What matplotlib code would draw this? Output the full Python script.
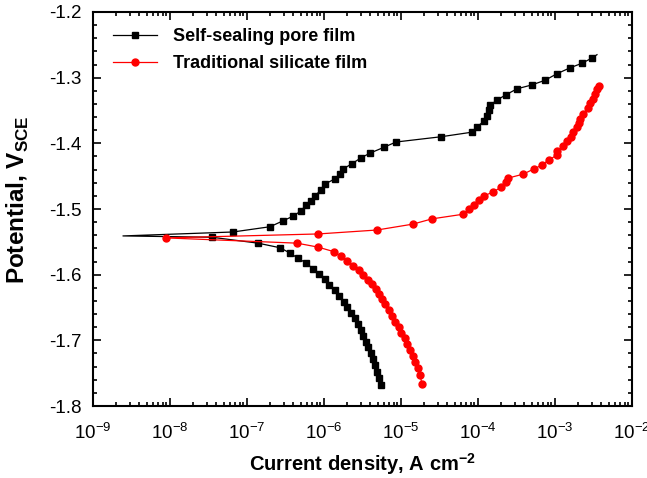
import matplotlib
matplotlib.use('Agg')
import matplotlib.pyplot as plt
from matplotlib.ticker import LogLocator, MultipleLocator, NullFormatter

plt.rcParams['font.family'] = ['Liberation Sans', 'DejaVu Sans']
plt.rcParams['mathtext.fontset'] = 'custom'
plt.rcParams['mathtext.rm'] = 'Liberation Sans'
plt.rcParams['mathtext.bf'] = 'Liberation Sans:bold'
plt.rcParams['axes.unicode_minus'] = False

# Self-sealing pore film: cathodic branch (bottom -> Ecorr) then anodic branch
self_i = [5.50e-6, 5.18e-6, 4.87e-6, 4.59e-6, 4.32e-6, 4.07e-6, 3.72e-6, 3.51e-6, 3.21e-6, 3.03e-6,
          2.77e-6, 2.53e-6, 2.25e-6, 1.99e-6, 1.82e-6, 1.57e-6, 1.39e-6, 1.16e-6, 1.03e-6, 8.61e-7,
          7.19e-7, 5.83e-7, 4.59e-7, 3.61e-7, 2.69e-7, 1.39e-7, 3.51e-8, 2.45e-9,
          6.58e-8, 1.99e-7, 2.94e-7, 3.95e-7, 5.02e-7, 5.83e-7, 6.78e-7, 7.64e-7, 9.14e-7, 1.03e-6,
          1.39e-6, 1.62e-6, 1.77e-6, 2.31e-6, 3.03e-6, 3.95e-6, 6.01e-6, 8.61e-6, 3.30e-5, 8.36e-5,
          9.70e-5, 1.20e-4, 1.31e-4, 1.39e-4, 1.43e-4, 1.77e-4, 2.31e-4, 3.21e-4, 5.02e-4, 7.41e-4,
          1.06e-3, 1.57e-3, 2.25e-3, 3.03e-3, 3.51e-3]
self_e = [-1.768, -1.757, -1.748, -1.738, -1.728, -1.719, -1.710, -1.703, -1.693, -1.684,
          -1.675, -1.666, -1.658, -1.649, -1.642, -1.632, -1.623, -1.616, -1.607, -1.599,
          -1.591, -1.582, -1.575, -1.567, -1.559, -1.552, -1.543, -1.541,
          -1.535, -1.527, -1.518, -1.511, -1.503, -1.494, -1.488, -1.480, -1.471, -1.462,
          -1.454, -1.447, -1.439, -1.431, -1.422, -1.415, -1.406, -1.398, -1.390, -1.383,
          -1.375, -1.366, -1.358, -1.349, -1.342, -1.334, -1.326, -1.317, -1.311, -1.304,
          -1.294, -1.285, -1.278, -1.270, -1.265]

# Traditional silicate film
trad_i = [1.87e-5, 1.77e-5, 1.66e-5, 1.52e-5, 1.43e-5, 1.31e-5, 1.20e-5, 1.13e-5, 1.00e-5, 9.42e-6,
          8.36e-6, 7.64e-6, 6.98e-6, 6.19e-6, 5.66e-6, 5.18e-6, 4.73e-6, 4.20e-6, 3.72e-6, 3.21e-6,
          2.85e-6, 2.38e-6, 1.99e-6, 1.66e-6, 1.35e-6, 8.36e-7, 4.46e-7, 8.87e-9,
          8.36e-7, 4.87e-6, 1.43e-5, 2.53e-5, 6.38e-5, 7.64e-5, 8.87e-5, 1.03e-4, 1.20e-4, 1.57e-4,
          1.99e-4, 2.31e-4, 2.45e-4, 3.84e-4, 5.33e-4, 6.78e-4, 8.36e-4, 1.06e-3, 1.06e-3, 1.27e-3,
          1.43e-3, 1.61e-3, 1.71e-3, 1.93e-3, 2.05e-3, 2.11e-3, 2.31e-3, 2.69e-3, 2.85e-3, 3.12e-3,
          3.30e-3, 3.51e-3, 3.72e-3]
trad_e = [-1.766, -1.753, -1.742, -1.733, -1.724, -1.715, -1.706, -1.696, -1.689, -1.680,
          -1.672, -1.663, -1.654, -1.645, -1.637, -1.629, -1.622, -1.614, -1.608, -1.600,
          -1.593, -1.587, -1.579, -1.572, -1.565, -1.558, -1.552, -1.544,
          -1.538, -1.532, -1.523, -1.515, -1.508, -1.500, -1.494, -1.486, -1.480, -1.474,
          -1.467, -1.459, -1.453, -1.447, -1.439, -1.433, -1.425, -1.418, -1.412, -1.404,
          -1.396, -1.390, -1.383, -1.375, -1.369, -1.363, -1.355, -1.346, -1.339, -1.332,
          -1.325, -1.317, -1.313]

labels = ['Self-sealing pore film', 'Traditional silicate film']

fig = plt.figure(figsize=(6.47, 4.78), dpi=100)
ax = fig.add_axes([0.1437, 0.1506, 0.8331, 0.8243])

# left end and last point of the black curve carry no marker
self_marks = [k for k in range(len(self_i)) if k not in (27, len(self_i) - 1)]
ax.plot(self_i, self_e, color='black', lw=0.9, marker='s', ms=4.5,
        markevery=self_marks, label=labels[0])
ax.plot(trad_i, trad_e, color='red', lw=0.9, marker='o', ms=5, mec='red',
        label=labels[1])

ax.set_xscale('log')
ax.set_xlim(1e-9, 1e-2)
ax.set_ylim(-1.8, -1.2)
ax.xaxis.set_major_locator(LogLocator(base=10, numticks=20))
ax.xaxis.set_minor_locator(LogLocator(base=10, subs=range(2, 10), numticks=20))
ax.xaxis.set_minor_formatter(NullFormatter())
ax.yaxis.set_major_locator(MultipleLocator(0.1))
ax.yaxis.set_minor_locator(MultipleLocator(0.02))
ax.yaxis.set_major_formatter(plt.FuncFormatter(lambda v, p: f'{v:.1f}'))

for s in ax.spines.values():
    s.set_linewidth(1.5)
ax.tick_params(which='both', direction='in', top=True, right=True, width=1.2)
ax.tick_params(which='major', length=6, labelsize=13.5)
ax.tick_params(axis='x', which='major', pad=12)
ax.tick_params(axis='y', which='major', pad=8)
ax.tick_params(which='minor', length=3)

ax.set_xlabel(r'Current density, A cm$^{\mathbf{-2}}$', fontsize=14.5, fontweight='bold', labelpad=6)
ax.set_ylabel(r'Potential, V$_{\mathbf{SCE}}$', fontsize=17.5, fontweight='bold')
ax.yaxis.set_label_coords(-0.115, 0.523)

ax.legend(loc='upper left', bbox_to_anchor=(0.037, 0.959), frameon=False, borderpad=0,
          borderaxespad=0, handlelength=2.45, handletextpad=0.9, labelspacing=0.55,
          prop={'weight': 'bold', 'size': 13})

fig.savefig('out.png', dpi=100)
